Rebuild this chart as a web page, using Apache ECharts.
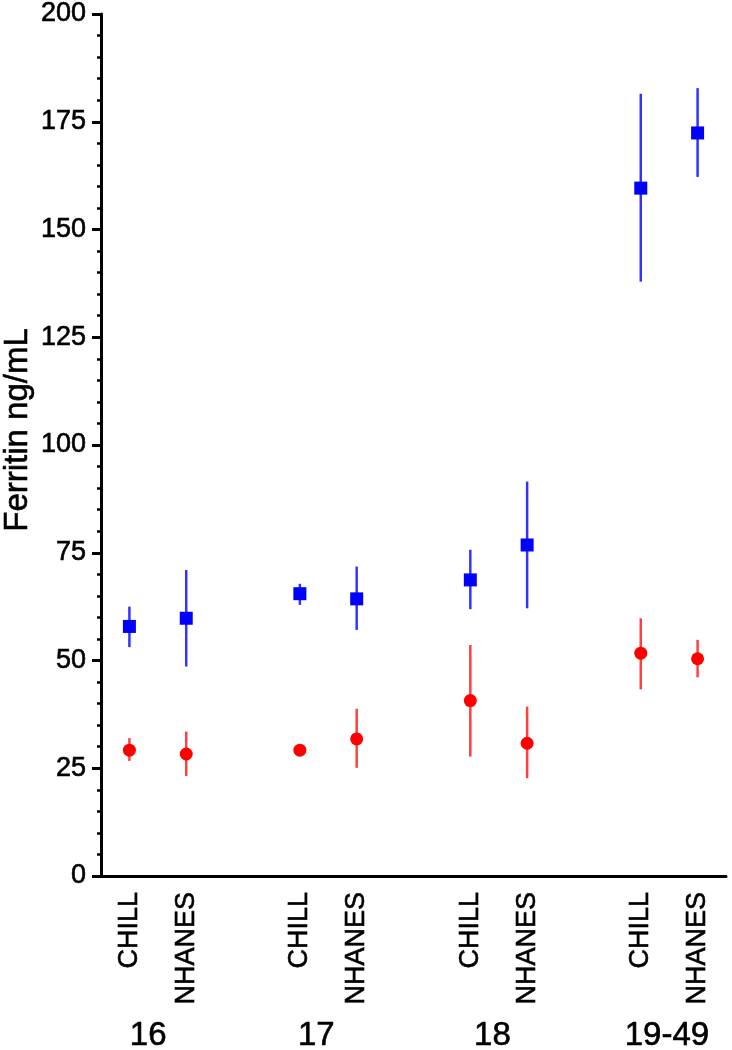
<!DOCTYPE html>
<html>
<head>
<meta charset="utf-8">
<script src="https://cdn.jsdelivr.net/npm/echarts@6/dist/echarts.min.js"></script>
<style>
  html, body { margin: 0; padding: 0; background: #fff; }
  #chart { width: 732px; height: 1050px; }
</style>
</head>
<body>
<div id="chart"></div>
<script>
// age groups and sources, two points per group
const groups = ['16', '17', '18', '19-49'];
const sources = ['CHILL', 'NHANES'];
// where each group label sits on the x scale (category units)
const groupLabelPos = [0.33, 3.29, 6.39, 9.46];

// blue squares
const blueMean = [57.9, 59.8, 65.5, 64.3, 68.7, 76.8, 159.6, 172.4];
const blueLow = [53.1, 48.6, 62.9, 57.1, 61.9, 62.1, 137.9, 162.2];
const blueHigh = [62.5, 71.0, 67.8, 71.8, 75.7, 91.5, 181.5, 182.8];

// red circles
const redMean = [29.2, 28.3, 29.2, 31.8, 40.7, 30.8, 51.7, 50.4];
const redLow = [26.7, 23.2, 28.6, 25.1, 27.7, 22.7, 43.3, 46.1];
const redHigh = [32.0, 33.5, 29.9, 38.8, 53.6, 39.3, 59.8, 54.8];

const FONT = 'Liberation Sans, Arial, sans-serif';
// a thin outline makes the text look as heavy as the scanned figure
const heavy = { textBorderColor: '#000', textBorderWidth: 0.6 };

// category slots, with an empty slot between groups
let categories = [];
groups.forEach((g, gi) => {
  sources.forEach(s => categories.push(s));
  if (gi < groups.length - 1) categories.push('');
});
const slotOf = i => Math.floor(i / 2) * 3 + (i % 2);

function points(mean) {
  return mean.map((v, i) => [slotOf(i), v]);
}
function bars(low, high) {
  return low.map((v, i) => [slotOf(i), v, high[i]]);
}

function errorBarSeries(data, color) {
  return {
    type: 'custom',
    xAxisIndex: 0,
    data: data,
    z: 1,
    renderItem: function (params, api) {
      const lo = api.coord([api.value(0), api.value(1)]);
      const hi = api.coord([api.value(0), api.value(2)]);
      return {
        type: 'line',
        shape: { x1: lo[0], y1: lo[1], x2: hi[0], y2: hi[1] },
        style: { stroke: color, lineWidth: 2.5 }
      };
    }
  };
}

const chart = echarts.init(document.getElementById('chart'));

let option = {
  backgroundColor: '#fff',
  animation: false,
  grid: {
    left: 101, right: 6, top: 14, bottom: 174,
    containLabel: false,
    outerBoundsMode: 'none'
  },
  xAxis: [
    {
      type: 'category',
      data: categories,
      boundaryGap: true,
      axisLine: { onZero: false, lineStyle: { color: '#000', width: 3 } },
      axisTick: {
        alignWithLabel: true,
        length: 10,
        interval: (idx, val) => val !== '',
        lineStyle: { color: '#000', width: 3 }
      },
      axisLabel: Object.assign({
        rotate: 90,
        margin: 16,
        interval: 0,
        color: '#000',
        fontFamily: FONT,
        fontSize: 27
      }, heavy),
      splitLine: { show: false }
    },
    {
      type: 'value',
      position: 'bottom',
      min: -0.5,
      max: 10.5,
      axisLine: { show: false, onZero: false },
      axisTick: { show: false },
      splitLine: { show: false },
      axisLabel: Object.assign({
        customValues: groupLabelPos,
        margin: 143,
        color: '#000',
        fontFamily: FONT,
        fontSize: 33,
        formatter: v => {
          const k = groupLabelPos.indexOf(v);
          return k >= 0 ? groups[k] : '';
        }
      }, heavy)
    }
  ],
  yAxis: {
    type: 'value',
    min: 0,
    max: 200,
    interval: 25,
    name: 'Ferritin ng/mL',
    nameLocation: 'middle',
    nameGap: 67,
    nameMoveOverlap: false,
    nameTextStyle: Object.assign({
      color: '#000',
      fontFamily: FONT,
      fontSize: 33,
      padding: [0, 0, 0, 30]
    }, heavy),
    axisLine: { show: true, onZero: false, lineStyle: { color: '#000', width: 3 } },
    axisTick: { show: true, length: 9, lineStyle: { color: '#000', width: 3 } },
    minorTick: { show: true, splitNumber: 5, length: 4, lineStyle: { color: '#000', width: 2.5 } },
    axisLabel: Object.assign({
      margin: 15,
      color: '#000',
      fontFamily: FONT,
      fontSize: 27
    }, heavy),
    splitLine: { show: false },
    minorSplitLine: { show: false }
  },
  series: [
    errorBarSeries(bars(blueLow, blueHigh), 'rgba(0,0,255,0.8)'),
    errorBarSeries(bars(redLow, redHigh), 'rgba(255,0,0,0.75)'),
    {
      type: 'scatter',
      xAxisIndex: 0,
      data: points(blueMean),
      symbol: 'rect',
      symbolSize: 13,
      itemStyle: { color: '#0000ff', opacity: 1 },
      z: 3
    },
    {
      type: 'scatter',
      xAxisIndex: 0,
      data: points(redMean),
      symbol: 'circle',
      symbolSize: 13,
      itemStyle: { color: '#ff0000', opacity: 1 },
      z: 3
    }
  ]
};

chart.setOption(option);
</script>
</body>
</html>
